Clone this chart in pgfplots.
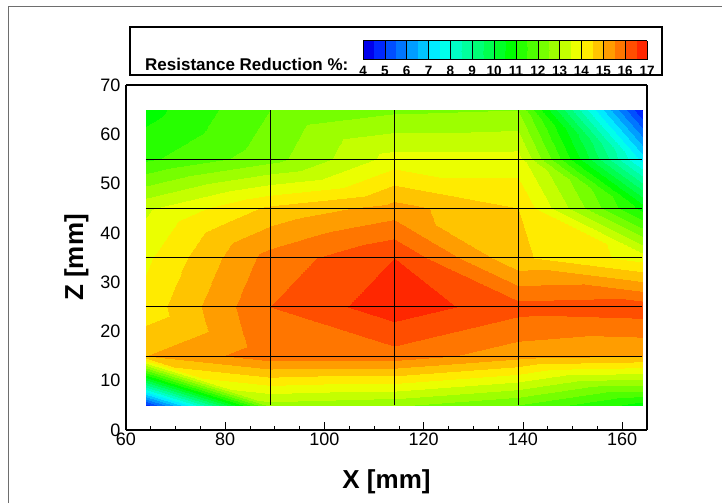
\documentclass[border=0pt]{standalone}
\usepackage{fontspec}
\setmainfont{Liberation Sans}
\usepackage{pgfplots}
\usepackage{pgfplotstable}
\pgfplotsset{compat=1.18}
\usetikzlibrary{calc}

% node values on the measurement grid (x, z in mm; v in %)
\pgfplotstableread{
x   z   v
64  5   4.8
89  5   12.8
114 5   12.6
139 5   12.0
164 5   10.8
64  15  15.0
89  15  15.8
114 15  15.8
139 15  15.2
164 15  15.0
64  25  14.2
89  25  16.0
114 25  16.8
139 25  16.2
164 25  16.3
64  35  13.9
89  35  15.7
114 35  16.5
139 35  14.6
164 35  13.8
64  45  13.4
89  45  14.6
114 45  15.2
139 45  14.5
164 45  10.8
64  55  11.4
89  55  12.3
114 55  13.7
139 55  13.7
164 55  7.3
64  65  10.8
89  65  12.0
114 65  12.4
139 65  12.5
164 65  4.5
}\datatab

% 26 bands of 0.5 between 4 and 17
\pgfplotsset{
  colormap={tec}{rgb255=(0,0,235) rgb255=(0,39,255) rgb255=(0,78,255)
    rgb255=(0,118,255) rgb255=(0,157,255) rgb255=(0,196,255) rgb255=(0,235,255)
    rgb255=(0,255,235) rgb255=(0,255,196) rgb255=(0,255,157) rgb255=(0,255,118)
    rgb255=(0,255,78) rgb255=(0,255,39) rgb255=(0,255,0) rgb255=(39,255,0)
    rgb255=(78,255,0) rgb255=(118,255,0) rgb255=(157,255,0) rgb255=(196,255,0)
    rgb255=(235,255,0) rgb255=(255,235,0) rgb255=(255,196,0) rgb255=(255,157,0)
    rgb255=(255,118,0) rgb255=(255,78,0) rgb255=(255,39,0)},
}

\begin{document}
\begin{tikzpicture}[x=1pt,y=1pt]
\useasboundingbox (0,0) rectangle (722,503);
\draw[color={rgb,255:red,110;green,110;blue,110}, line width=0.8pt] (8,0) -- (8,496.5) -- (722,496.5);

% legend frame
\draw[line width=1.2pt] (130,428) rectangle (662,476);
\node[anchor=base west, font=\bfseries\fontsize{17}{20}\selectfont, inner sep=0pt] at (145,432) {Resistance Reduction \%:};

\begin{axis}[
  at={(126pt,73pt)}, anchor=south west,
  scale only axis, width=521pt, height=345pt,
  view={0}{90},
  xmin=60, xmax=165, ymin=0, ymax=70, zmin=-1, zmax=1,
  colormap name=tec, colormap access=piecewise constant,
  point meta min=4, point meta max=17,
  xtick={60,80,...,160}, minor x tick num=3,
  ytick={0,10,...,70}, ztick=\empty,
  xtick pos=left, tick align=inside,
  major tick length=8pt, minor tick length=4pt,
  ytick style={draw=none},
  tick style={black, line width=0.8pt},
  axis line style={line width=1.5pt},
  /pgf/number format/assume math mode=true,
  ticklabel style={font=\fontsize{18}{21}\selectfont},
  xticklabel style={yshift=1pt},
  yticklabel style={xshift=-2pt},
  xlabel={X [mm]}, ylabel={Z [mm]},
  label style={font=\bfseries\fontsize{26}{30}\selectfont},
  xlabel style={yshift=-18pt},
  ylabel style={yshift=5pt},
  colorbar horizontal,
  colorbar style={
    at={($(parent axis.north east)+(0pt,34pt)$)}, anchor=south east,
    width=284pt, height=19pt,
    xtick={4,...,17}, xtick pos=left,
    major tick length=0pt,
    xmajorgrids, major grid style={black, line width=0.5pt},
    axis on top,
    axis line style={line width=0.4pt},
    xticklabel={\bfseries\fontsize{13.5}{15}\selectfont\pgfmathprintnumber[assume math mode=true]{\tick}},
    xticklabel style={yshift=-3pt},
  },
]
\addplot3[surf, shader=interp, mesh/rows=7, mesh/cols=5, point meta=explicit]
  table[x=x, y=z, z expr=0, meta=v] {\datatab};
\addplot3[black, line width=0.6pt, unbounded coords=jump] coordinates {
  (89,5,0) (89,65,0) (nan,nan,nan)
  (114,5,0) (114,65,0) (nan,nan,nan)
  (139,5,0) (139,65,0) (nan,nan,nan)
  (64,15,0) (164,15,0) (nan,nan,nan)
  (64,25,0) (164,25,0) (nan,nan,nan)
  (64,35,0) (164,35,0) (nan,nan,nan)
  (64,45,0) (164,45,0) (nan,nan,nan)
  (64,55,0) (164,55,0)
};
\end{axis}
\end{tikzpicture}
\end{document}
